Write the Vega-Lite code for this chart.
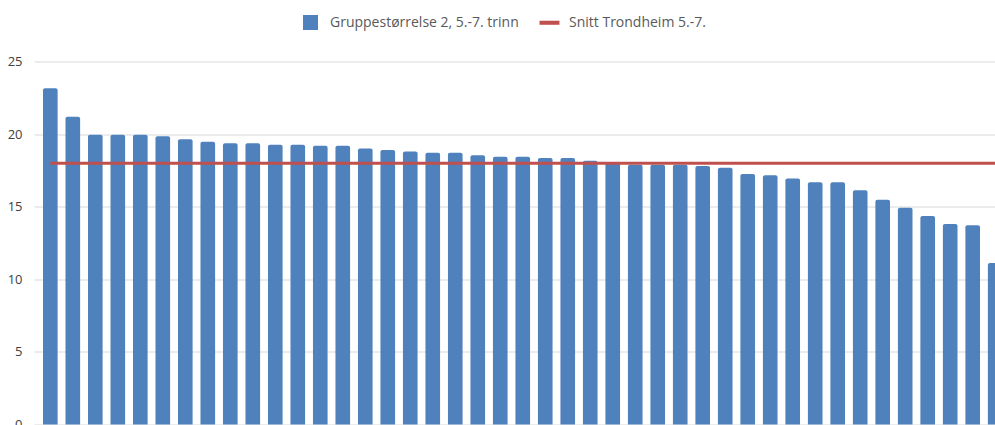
{
  "$schema": "https://vega.github.io/schema/vega-lite/v6.json",
  "autosize": "none",
  "width": 961,
  "height": 363,
  "padding": {"left": 34, "top": 61.5, "right": 0, "bottom": 0.5},
  "background": "#ffffff",
  "config": {
    "view": {"stroke": null},
    "font": "Open Sans"
  },
  "data": {
    "values": [
      {"nr": 1, "gruppe": 23.15, "snitt": 18},
      {"nr": 2, "gruppe": 21.2, "snitt": 18},
      {"nr": 3, "gruppe": 19.95, "snitt": 18},
      {"nr": 4, "gruppe": 19.95, "snitt": 18},
      {"nr": 5, "gruppe": 19.95, "snitt": 18},
      {"nr": 6, "gruppe": 19.85, "snitt": 18},
      {"nr": 7, "gruppe": 19.65, "snitt": 18},
      {"nr": 8, "gruppe": 19.48, "snitt": 18},
      {"nr": 9, "gruppe": 19.37, "snitt": 18},
      {"nr": 10, "gruppe": 19.37, "snitt": 18},
      {"nr": 11, "gruppe": 19.27, "snitt": 18},
      {"nr": 12, "gruppe": 19.27, "snitt": 18},
      {"nr": 13, "gruppe": 19.2, "snitt": 18},
      {"nr": 14, "gruppe": 19.2, "snitt": 18},
      {"nr": 15, "gruppe": 19.0, "snitt": 18},
      {"nr": 16, "gruppe": 18.9, "snitt": 18},
      {"nr": 17, "gruppe": 18.81, "snitt": 18},
      {"nr": 18, "gruppe": 18.72, "snitt": 18},
      {"nr": 19, "gruppe": 18.72, "snitt": 18},
      {"nr": 20, "gruppe": 18.54, "snitt": 18},
      {"nr": 21, "gruppe": 18.44, "snitt": 18},
      {"nr": 22, "gruppe": 18.44, "snitt": 18},
      {"nr": 23, "gruppe": 18.35, "snitt": 18},
      {"nr": 24, "gruppe": 18.35, "snitt": 18},
      {"nr": 25, "gruppe": 18.17, "snitt": 18},
      {"nr": 26, "gruppe": 17.99, "snitt": 18},
      {"nr": 27, "gruppe": 17.89, "snitt": 18},
      {"nr": 28, "gruppe": 17.89, "snitt": 18},
      {"nr": 29, "gruppe": 17.89, "snitt": 18},
      {"nr": 30, "gruppe": 17.8, "snitt": 18},
      {"nr": 31, "gruppe": 17.69, "snitt": 18},
      {"nr": 32, "gruppe": 17.25, "snitt": 18},
      {"nr": 33, "gruppe": 17.16, "snitt": 18},
      {"nr": 34, "gruppe": 16.95, "snitt": 18},
      {"nr": 35, "gruppe": 16.68, "snitt": 18},
      {"nr": 36, "gruppe": 16.68, "snitt": 18},
      {"nr": 37, "gruppe": 16.13, "snitt": 18},
      {"nr": 38, "gruppe": 15.48, "snitt": 18},
      {"nr": 39, "gruppe": 14.93, "snitt": 18},
      {"nr": 40, "gruppe": 14.36, "snitt": 18},
      {"nr": 41, "gruppe": 13.81, "snitt": 18},
      {"nr": 42, "gruppe": 13.72, "snitt": 18},
      {"nr": 43, "gruppe": 11.12, "snitt": 18}
    ]
  },
  "encoding": {
    "x": {
      "field": "nr",
      "type": "ordinal",
      "axis": null,
      "scale": {"range": [0, 977.5], "paddingInner": 0.35, "paddingOuter": 0.4}
    }
  },
  "layer": [
    {
      "mark": {"type": "bar", "color": "#4f81bd", "cornerRadiusTopLeft": 2, "cornerRadiusTopRight": 2},
      "encoding": {
        "y": {
          "field": "gruppe",
          "type": "quantitative",
          "stack": null,
          "scale": {"domain": [0, 25], "nice": false},
          "axis": {
            "title": null,
            "values": [0, 5, 10, 15, 20, 25],
            "domain": false,
            "ticks": false,
            "grid": true,
            "gridColor": "#d9d9d9",
            "gridWidth": 1,
            "labelFont": "Open Sans",
            "labelFontSize": 13,
            "labelColor": "#404040",
            "labelPadding": 12
          }
        },
        "color": {
          "datum": "Gruppestørrelse 2, 5.-7. trinn",
          "type": "nominal",
          "scale": {
            "domain": ["Gruppestørrelse 2, 5.-7. trinn", "Snitt Trondheim 5.-7."],
            "range": ["#4f81bd", "#c0504d"]
          },
          "legend": {
            "title": null,
            "orient": "none",
            "direction": "horizontal",
            "legendX": 269,
            "legendY": -46.5,
            "padding": 0,
            "symbolSize": 225,
            "labelFont": "Open Sans",
            "labelFontSize": 14,
            "labelColor": "#595959",
            "labelOffset": 12,
            "labelLimit": 400,
            "columnPadding": 20,
            "encode": {
              "symbols": {
                "update": {
                  "shape": {"signal": "datum.value === 'Snitt Trondheim 5.-7.' ? 'M-1.33,-0.27H1.33V0.27H-1.33Z' : 'square'"},
                  "fill": {"signal": "datum.value === 'Snitt Trondheim 5.-7.' ? '#c0504d' : '#4f81bd'"},
                  "fillOpacity": {"value": 1},
                  "strokeWidth": {"value": 0}
                }
              }
            }
          }
        }
      }
    },
    {
      "mark": {"type": "line", "strokeWidth": 3},
      "encoding": {
        "y": {"field": "snitt", "type": "quantitative"},
        "color": {"datum": "Snitt Trondheim 5.-7.", "type": "nominal"}
      }
    }
  ]
}
